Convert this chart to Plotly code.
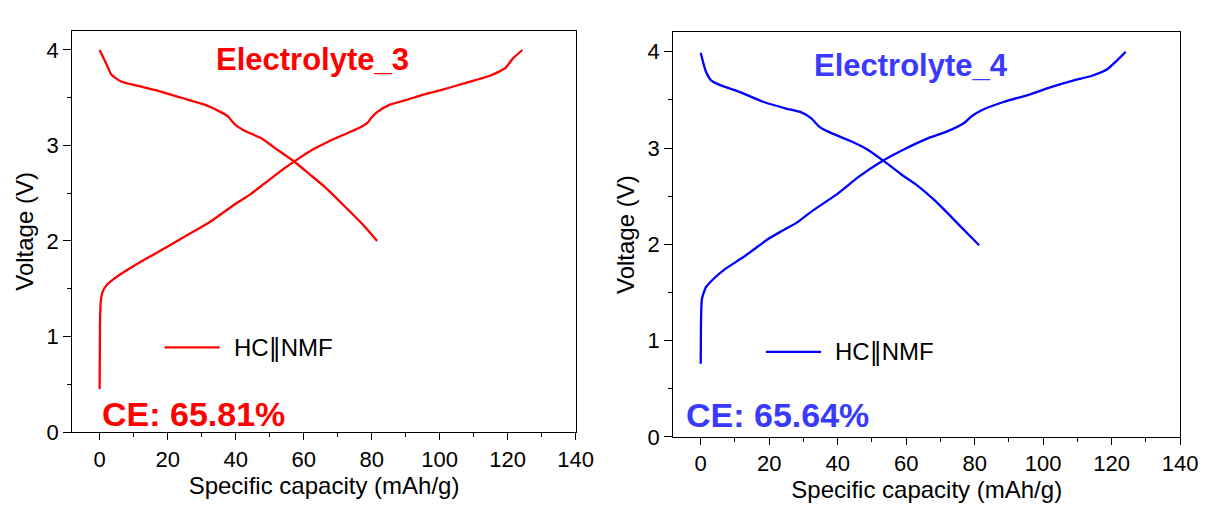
import plotly.graph_objects as go

# ---------------- data ----------------
e3_charge_cap = [0, 0.11, 0.33, 0.8, 1.9, 4.1, 7.4, 13, 19.9, 26.2, 32.9, 40, 44, 48.4, 53.9, 58.4,
                 62.8, 67.2, 71.6, 76.1, 78.8, 79.9, 81.6, 84.9, 90.5, 96, 100.4, 107.1, 114.8,
                 119.3, 121.5, 124.3]
e3_charge_v = [0.45, 1.12, 1.36, 1.46, 1.53, 1.60, 1.68, 1.80, 1.94, 2.07, 2.21, 2.39, 2.48, 2.60,
               2.75, 2.86, 2.96, 3.04, 3.11, 3.18, 3.24, 3.29, 3.35, 3.42, 3.48, 3.54, 3.58, 3.65,
               3.73, 3.81, 3.91, 4.0]
e3_dis_cap = [0, 1.9, 3.5, 6.3, 10.7, 17.4, 24, 30.7, 35.1, 37.9, 39, 40.1, 42.9, 47.3, 51.7, 57.3,
              61.7, 66.1, 71.6, 77.2, 81.6]
e3_dis_v = [4.0, 3.86, 3.74, 3.67, 3.63, 3.57, 3.50, 3.43, 3.36, 3.30, 3.25, 3.21, 3.15, 3.08, 2.97,
            2.83, 2.70, 2.57, 2.38, 2.18, 2.0]

e4_charge_cap = [0, 0.1, 0.34, 1.45, 3.7, 7, 12.6, 19.9, 23.8, 28.3, 32.7, 39.4, 46.1, 52.8, 59.6,
                 66.3, 71.8, 76.9, 79.1, 81.9, 88.6, 96.4, 102, 108.7, 114.3, 118.8, 121.6, 124.1]
e4_charge_v = [0.76, 1.23, 1.43, 1.55, 1.64, 1.74, 1.87, 2.06, 2.14, 2.23, 2.35, 2.51, 2.70, 2.86,
               2.99, 3.10, 3.17, 3.26, 3.33, 3.39, 3.48, 3.56, 3.63, 3.70, 3.75, 3.82, 3.91, 4.0]
e4_dis_cap = [0, 1.45, 3.1, 5.9, 11.5, 18.2, 24.9, 29.4, 32.2, 34.7, 37.2, 43.9, 48.4, 54, 58.4,
              62.9, 68.5, 75.2, 81.3]
e4_dis_v = [3.99, 3.80, 3.70, 3.65, 3.58, 3.48, 3.41, 3.37, 3.31, 3.22, 3.17, 3.07, 2.99, 2.85,
            2.73, 2.62, 2.45, 2.21, 1.99]

x_tick_vals = [0, 20, 40, 60, 80, 100, 120, 140]
y_tick_vals = [0, 1, 2, 3, 4]
panel_titles = ["Electrolyte_3", "Electrolyte_4"]
ce_labels = ["CE: 65.81%", "CE: 65.64%"]
legend_label = "HC<span style='font-family:DejaVu Sans'>\u2016</span>NMF"

# ---------------- styling ----------------
W, H = 1209, 510
FONT = "Arial, 'Liberation Sans', 'DejaVu Sans', sans-serif"
RED = "#ff0000"
BLUE = "#0000ff"
BLUE_TXT = "#3a3aff"


def px_x(p):
    return p / W


def px_y(p):
    return (H - p) / H


fig = go.Figure()

for cap, v in [(e3_charge_cap, e3_charge_v), (e3_dis_cap, e3_dis_v)]:
    fig.add_trace(go.Scatter(x=cap, y=v, mode="lines",
                             line=dict(color=RED, width=2.3, shape="spline", smoothing=0.5),
                             showlegend=False, xaxis="x", yaxis="y", name="HC||NMF"))
for cap, v in [(e4_charge_cap, e4_charge_v), (e4_dis_cap, e4_dis_v)]:
    fig.add_trace(go.Scatter(x=cap, y=v, mode="lines",
                             line=dict(color=BLUE, width=2.3, shape="spline", smoothing=0.5),
                             showlegend=False, xaxis="x2", yaxis="y2", name="HC||NMF"))


def xaxis_cfg(domain, anchor):
    return dict(domain=domain, anchor=anchor, range=[-8, 140], tickvals=x_tick_vals,
                ticks="outside", ticklen=7, tickwidth=1.3, tickcolor="black",
                minor=dict(dtick=10, tick0=0, ticks="outside", ticklen=4, tickwidth=1.2,
                           tickcolor="black", showgrid=False),
                showline=True, linecolor="black", linewidth=1.3, mirror=True,
                showgrid=False, zeroline=False,
                tickfont=dict(family=FONT, size=22, color="black"),
                title=dict(text="Specific capacity (mAh/g)", standoff=0,
                           font=dict(family=FONT, size=24, color="black")))


def yaxis_cfg(domain, anchor):
    return dict(domain=domain, anchor=anchor, range=[0, 4.2], tickvals=y_tick_vals,
                ticks="outside", ticklen=8, tickwidth=1.3, tickcolor="black",
                minor=dict(dtick=0.5, tick0=0, ticks="outside", ticklen=4, tickwidth=1.2,
                           tickcolor="black", showgrid=False),
                showline=True, linecolor="black", linewidth=1.3, mirror=True,
                showgrid=False, zeroline=False,
                tickfont=dict(family=FONT, size=22, color="black"),
                title=dict(text="Voltage (V)", standoff=6,
                           font=dict(family=FONT, size=24, color="black")))


annotations = [
    dict(text=f"<b>{panel_titles[0]}</b>", x=px_x(317.5), y=px_y(61), xref="paper", yref="paper",
         xanchor="center", yanchor="middle", showarrow=False,
         font=dict(family=FONT, size=31, color=RED)),
    dict(text=f"<b>{ce_labels[0]}</b>", x=px_x(196), y=px_y(425), xref="paper", yref="paper",
         xanchor="center", yanchor="middle", showarrow=False,
         font=dict(family=FONT, size=34, color=RED)),
    dict(text=legend_label, x=px_x(235), y=px_y(357), xref="paper", yref="paper",
         xanchor="left", yanchor="middle", showarrow=False,
         font=dict(family=FONT, size=24, color="black")),
    dict(text=f"<b>{panel_titles[1]}</b>", x=px_x(925), y=px_y(67), xref="paper", yref="paper",
         xanchor="center", yanchor="middle", showarrow=False,
         font=dict(family=FONT, size=31, color=BLUE_TXT)),
    dict(text=f"<b>{ce_labels[1]}</b>", x=px_x(789), y=px_y(426), xref="paper", yref="paper",
         xanchor="center", yanchor="middle", showarrow=False,
         font=dict(family=FONT, size=34, color=BLUE_TXT)),
    dict(text=legend_label, x=px_x(846), y=px_y(361), xref="paper", yref="paper",
         xanchor="left", yanchor="middle", showarrow=False,
         font=dict(family=FONT, size=24, color="black")),
]

shapes = [
    dict(type="line", xref="paper", yref="paper", x0=px_x(167), x1=px_x(223),
         y0=px_y(356.5), y1=px_y(356.5), line=dict(color=RED, width=2.3)),
    dict(type="line", xref="paper", yref="paper", x0=px_x(777.5), x1=px_x(833.5),
         y0=px_y(361), y1=px_y(361), line=dict(color=BLUE, width=2.3)),
]

fig.update_layout(
    width=W, height=H,
    margin=dict(l=0, r=0, t=0, b=0),
    paper_bgcolor="white", plot_bgcolor="white",
    showlegend=False,
    xaxis=xaxis_cfg([px_x(73.5), px_x(584.4)], "y"),
    yaxis=yaxis_cfg([px_y(443.3), px_y(31.7)], "x"),
    xaxis2=xaxis_cfg([px_x(683.5), px_x(1198)], "y2"),
    yaxis2=yaxis_cfg([px_y(448.3), px_y(33.3)], "x2"),
    annotations=annotations,
    shapes=shapes,
)

fig.write_html("out.html")
